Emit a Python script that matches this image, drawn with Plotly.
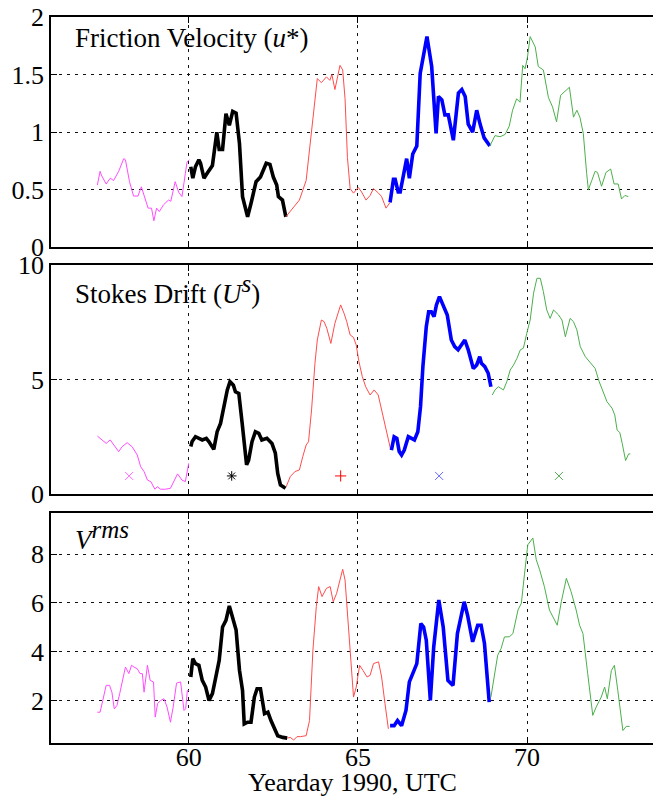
import plotly.graph_objects as go

FONT = "Liberation Serif, Times New Roman, serif"

# ---------------- Friction velocity (top panel) ----------------
u_mag_x = [57.30, 57.38, 57.43, 57.56, 57.68, 57.78, 57.93, 58.08, 58.13, 58.25, 58.37, 58.50, 58.60, 58.70,
           58.80, 58.90, 58.97, 59.05, 59.13, 59.25, 59.40, 59.47, 59.60, 59.70, 59.80, 59.90, 59.95, 60.02]
u_mag_y = [0.54, 0.66, 0.62, 0.55, 0.60, 0.58, 0.66, 0.77, 0.76, 0.57, 0.445, 0.445, 0.525, 0.425,
           0.34, 0.34, 0.23, 0.34, 0.31, 0.367, 0.41, 0.40, 0.57, 0.48, 0.44, 0.64, 0.74, 0.76]
u_blk_x = [60.06, 60.12, 60.2, 60.3, 60.35, 60.45, 60.55, 60.7, 60.83, 60.9, 61.0, 61.1, 61.2, 61.3,
           61.4, 61.5, 61.59, 61.74, 61.84, 61.99, 62.12, 62.29, 62.4, 62.5, 62.6, 62.65, 62.77, 62.87]
u_blk_y = [0.70, 0.60, 0.70, 0.76, 0.73, 0.60, 0.645, 0.71, 1.0, 0.85, 0.85, 1.16, 1.06, 1.18,
           1.165, 0.90, 0.44, 0.265, 0.38, 0.57, 0.61, 0.73, 0.72, 0.61, 0.54, 0.44, 0.41, 0.265]
u_red_x = [62.87, 63.07, 63.27, 63.47, 63.63, 63.8, 63.92, 64.07, 64.17, 64.23, 64.32, 64.47, 64.55,
           64.62, 64.69, 64.77, 64.87, 65.01, 65.11, 65.24, 65.36, 65.46, 65.61, 65.70, 65.83, 65.95]
u_red_y = [0.265, 0.34, 0.41, 0.58, 0.99, 1.465, 1.43, 1.48, 1.45, 1.50, 1.37, 1.58, 1.54,
           1.29, 0.78, 0.51, 0.47, 0.52, 0.48, 0.41, 0.45, 0.51, 0.47, 0.44, 0.34, 0.39]
u_blu_x = [65.95, 66.05, 66.1, 66.19, 66.25, 66.34, 66.44, 66.52, 66.62, 66.74, 66.84, 67.04, 67.18, 67.31,
           67.38, 67.48, 67.57, 67.67, 67.82, 67.97, 68.07, 68.17, 68.26, 68.39, 68.51, 68.61, 68.73, 68.90]
u_blu_y = [0.39, 0.59, 0.59, 0.48, 0.48, 0.62, 0.77, 0.60, 0.81, 0.88, 1.51, 1.83, 1.57, 0.99,
           1.31, 1.28, 1.15, 1.15, 0.93, 1.34, 1.37, 1.31, 1.07, 1.00, 1.19, 1.07, 0.95, 0.88]
u_grn_x = [68.90, 69.05, 69.20, 69.35, 69.47, 69.57, 69.69, 69.79, 69.87, 69.94, 70.01, 70.09, 70.24,
           70.33, 70.48, 70.63, 70.75, 70.87, 70.99, 71.10, 71.25, 71.37, 71.47, 71.56, 71.66, 71.76,
           71.81, 71.91, 72.01, 72.08, 72.20, 72.33, 72.47, 72.57, 72.69, 72.79, 72.89, 72.99]
u_grn_y = [0.88, 0.97, 0.96, 0.98, 1.05, 1.19, 1.29, 1.26, 1.58, 1.55, 1.65, 1.83, 1.74,
           1.57, 1.54, 1.30, 1.22, 1.09, 1.32, 1.35, 1.39, 1.13, 1.19, 1.13, 0.99, 0.64,
           0.50, 0.58, 0.66, 0.65, 0.53, 0.65, 0.68, 0.55, 0.55, 0.42, 0.45, 0.44]

# ---------------- Stokes drift (middle panel) ----------------
s_mag_x = [57.30, 57.43, 57.56, 57.68, 57.78, 57.93, 58.03, 58.18, 58.33, 58.48, 58.58, 58.68, 58.78,
           58.88, 59.0, 59.07, 59.17, 59.31, 59.46, 59.56, 59.67, 59.8, 59.9, 60.0]
s_mag_y = [2.54, 2.37, 2.22, 2.37, 2.15, 1.86, 2.07, 2.25, 2.07, 1.71, 1.20, 0.99, 0.62,
           0.55, 0.22, 0.33, 0.22, 0.22, 0.26, 0.55, 0.89, 0.62, 0.55, 1.35]
s_blk_x = [60.06, 60.1, 60.2, 60.3, 60.4, 60.52, 60.6, 60.74, 60.84, 60.94, 61.04, 61.14, 61.22, 61.32,
           61.38, 61.48, 61.58, 61.71, 61.77, 61.87, 61.97, 62.07, 62.16, 62.31, 62.46, 62.56, 62.63,
           62.71, 62.86]
s_blk_y = [2.08, 2.30, 2.51, 2.44, 2.37, 2.44, 2.29, 1.96, 2.73, 3.09, 3.82, 4.55, 4.91, 4.76,
           4.47, 4.40, 3.09, 1.28, 1.49, 2.29, 2.73, 2.66, 2.37, 2.44, 2.22, 1.79, 0.91,
           0.41, 0.26]
s_red_x = [62.88, 63.0, 63.14, 63.27, 63.37, 63.47, 63.54, 63.63, 63.73, 63.8, 63.92, 64.0, 64.08, 64.2,
           64.32, 64.49, 64.59, 64.67, 64.77, 64.87, 64.95, 65.03, 65.13, 65.23, 65.36, 65.48, 65.6,
           65.72, 65.82, 65.92, 65.97]
s_red_y = [0.33, 0.77, 0.99, 1.06, 1.64, 2.15, 2.29, 3.68, 5.71, 6.73, 7.60, 7.53, 7.24, 6.58,
           7.46, 8.26, 7.89, 7.53, 6.95, 6.84, 6.51, 5.78, 5.13, 4.69, 4.33, 4.55, 4.33,
           3.53, 2.80, 2.22, 1.93]
s_blu_x = [65.99, 66.07, 66.15, 66.22, 66.29, 66.37, 66.49, 66.57, 66.67, 66.77, 66.85, 66.92, 67.02,
           67.09, 67.17, 67.25, 67.32, 67.41, 67.51, 67.64, 67.76, 67.86, 67.96, 68.06, 68.16, 68.26,
           68.41, 68.51, 68.6, 68.65, 68.75, 68.85, 68.93]
s_blu_y = [1.93, 2.51, 2.44, 1.86, 1.71, 1.93, 2.51, 2.44, 2.37, 2.73, 3.82, 5.57, 7.31,
           7.96, 7.96, 7.75, 8.26, 8.62, 8.26, 7.82, 6.73, 6.44, 6.30, 6.51, 6.73, 6.30,
           5.49, 5.64, 6.00, 5.71, 5.57, 5.28, 4.69]
s_grn_x = [68.97, 69.05, 69.15, 69.3, 69.4, 69.5, 69.6, 69.7, 69.8, 69.89, 69.99, 70.09, 70.19, 70.29,
           70.39, 70.48, 70.58, 70.68, 70.78, 70.93, 71.03, 71.13, 71.27, 71.37, 71.47, 71.57, 71.72,
           71.87, 72.01, 72.13, 72.26, 72.36, 72.51, 72.59, 72.66, 72.74, 72.81, 72.91, 73.0, 73.05]
s_grn_y = [4.33, 4.55, 4.69, 4.55, 4.91, 5.42, 5.64, 5.93, 6.30, 6.37, 7.02, 7.60, 8.77, 9.42,
           9.42, 8.84, 8.04, 7.67, 8.04, 7.82, 7.60, 6.87, 7.67, 7.53, 7.17, 6.44, 6.00,
           5.71, 5.49, 4.91, 4.40, 4.04, 3.75, 3.46, 2.80, 2.69, 2.22, 1.47, 1.76, 1.76]

# Stokes-drift markers
mk_x = [58.24, 61.27, 64.49, 67.40, 70.94]
mk_y = [0.8, 0.8, 0.8, 0.8, 0.8]

# ---------------- V rms (bottom panel) ----------------
v_mag_x = [57.30, 57.38, 57.46, 57.56, 57.66, 57.73, 57.80, 57.88, 57.96, 58.03, 58.13, 58.23, 58.31,
           58.38, 58.48, 58.56, 58.63, 58.68, 58.73, 58.78, 58.86, 58.96, 59.01, 59.08, 59.17, 59.27,
           59.36, 59.46, 59.54, 59.64, 59.76, 59.86, 59.91, 59.96, 60.0]
v_mag_y = [1.53, 1.53, 2.01, 2.63, 2.63, 2.35, 1.67, 1.81, 2.29, 2.70, 3.38, 3.11, 3.45,
           3.38, 3.31, 3.11, 3.11, 2.35, 3.04, 3.45, 2.83, 2.77, 1.33, 1.88, 2.01, 2.08,
           1.74, 1.12, 1.74, 2.72, 2.77, 1.60, 1.67, 2.42, 2.42]
v_blk_x = [60.06, 60.12, 60.2, 60.3, 60.4, 60.5, 60.6, 60.7, 60.8, 60.9, 61.0, 61.1, 61.2, 61.3, 61.4,
           61.5, 61.59, 61.64, 61.74, 61.84, 61.94, 62.02, 62.12, 62.24, 62.34, 62.43, 62.53, 62.63,
           62.78, 62.91]
v_blk_y = [2.97, 3.72, 3.52, 3.45, 2.83, 2.56, 2.01, 2.29, 2.97, 3.65, 5.02, 5.29, 5.88, 5.43, 4.89,
           3.25, 2.42, 1.05, 1.12, 1.12, 2.15, 2.49, 2.49, 1.47, 1.53, 1.19, 0.85, 0.57,
           0.50, 0.47]
v_red_x = [62.91, 63.0, 63.1, 63.2, 63.3, 63.47, 63.57, 63.67, 63.77, 63.84, 63.94, 64.07, 64.18, 64.27,
           64.37, 64.45, 64.55, 64.62, 64.69, 64.77, 64.87, 64.95, 65.05, 65.15, 65.27, 65.36, 65.46,
           65.61, 65.70, 65.80, 65.90]
v_red_y = [0.47, 0.50, 0.39, 0.53, 0.53, 0.57, 1.19, 4.07, 5.85, 6.67, 6.26, 6.60, 6.67, 6.05,
           6.39, 6.87, 7.38, 6.94, 5.58, 4.34, 2.15, 2.56, 3.45, 3.24, 2.97, 3.04, 3.52,
           3.59, 2.97, 1.88, 0.85]
v_blu_x = [65.95, 66.07, 66.17, 66.29, 66.42, 66.52, 66.62, 66.74, 66.86, 66.94, 67.02, 67.14, 67.24,
           67.39, 67.52, 67.66, 67.81, 67.94, 68.14, 68.24, 68.39, 68.54, 68.64, 68.74, 68.88]
v_blu_y = [0.98, 0.98, 1.19, 0.98, 1.60, 2.77, 3.11, 3.52, 5.16, 5.02, 4.48, 2.01, 4.20,
           6.12, 5.02, 2.83, 2.63, 4.75, 6.05, 5.50, 4.41, 5.09, 5.09, 4.34, 1.94]
v_grn_x = [68.93, 69.03, 69.13, 69.23, 69.33, 69.48, 69.58, 69.73, 69.83, 69.92, 70.02, 70.17, 70.27,
           70.37, 70.51, 70.66, 70.76, 70.89, 71.01, 71.16, 71.3, 71.45, 71.55, 71.65, 71.79, 71.94,
           72.04, 72.19, 72.29, 72.37, 72.49, 72.58, 72.68, 72.83, 72.93, 73.03]
v_grn_y = [2.15, 3.11, 3.86, 4.13, 4.61, 4.62, 4.75, 5.71, 5.99, 7.15, 8.38, 8.66, 7.77,
           7.36, 6.67, 5.71, 5.43, 5.09, 6.05, 7.01, 6.46, 5.71, 5.09, 4.75, 3.11, 1.40,
           1.74, 2.15, 2.56, 2.08, 3.24, 3.45, 2.42, 0.78, 0.95, 0.95]

# tick values / labels
x_ticks = [60, 65, 70]
u_ticks = [0, 0.5, 1, 1.5, 2]
u_ticktext = ["0", "0.5", "1", "1.5", "2"]
s_ticks = [0, 5, 10]
v_ticks = [2, 4, 6, 8]

C_MAG = "#ff4cff"
C_BLK = "#000000"
C_RED = "#ff4c4c"
C_BLU = "#0000ff"
C_GRN = "#4caf4c"
THIN = 1.0
THICK = 3.6
FS = 26

fig = go.Figure()


def add_line(x, y, color, width, xa, ya):
    fig.add_trace(go.Scatter(x=x, y=y, mode="lines", line=dict(color=color, width=width),
                             xaxis=xa, yaxis=ya, showlegend=False, hoverinfo="skip"))


panel_data = [
    ("x3", "y3", [(u_mag_x, u_mag_y), (u_blk_x, u_blk_y), (u_red_x, u_red_y), (u_blu_x, u_blu_y), (u_grn_x, u_grn_y)]),
    ("x2", "y2", [(s_mag_x, s_mag_y), (s_blk_x, s_blk_y), (s_red_x, s_red_y), (s_blu_x, s_blu_y), (s_grn_x, s_grn_y)]),
    ("x", "y", [(v_mag_x, v_mag_y), (v_blk_x, v_blk_y), (v_red_x, v_red_y), (v_blu_x, v_blu_y), (v_grn_x, v_grn_y)]),
]
styles = [(C_MAG, THIN), (C_BLK, THICK), (C_RED, THIN), (C_BLU, THICK), (C_GRN, THIN)]
for xa, ya, segs in panel_data:
    for (sx, sy), (col, w) in zip(segs, styles):
        add_line(sx, sy, col, w, xa, ya)

mk_symbols = ["x-thin", "asterisk", "cross-thin", "x-thin", "x-thin"]
mk_colors = ["#ff66ff", "#000000", "#ff0000", "#6666ff", "#55aa55"]
for i in range(len(mk_x)):
    fig.add_trace(go.Scatter(x=[mk_x[i]], y=[mk_y[i]], mode="markers",
                             marker=dict(symbol=mk_symbols[i], size=8,
                                         line=dict(color=mk_colors[i], width=1)),
                             xaxis="x2", yaxis="y2", showlegend=False, hoverinfo="skip"))

GRID = dict(showgrid=True, gridcolor="#111111", gridwidth=1, griddash="3px,5px")
XR = [55.93, 73.72]


def xaxis(anchor, labels):
    d = dict(range=XR, tickvals=x_ticks, anchor=anchor, showline=True, linecolor="black", linewidth=1.5,
             mirror="ticks", ticks="inside", ticklen=6, tickcolor="black", zeroline=False,
             showticklabels=labels, tickfont=dict(family=FONT, size=FS, color="black"), automargin=False,
             ticklabelstandoff=-10, **GRID)
    if anchor != "y":
        d["matches"] = "x"
    return d


def yaxis(dom, rng, tv, tt=None):
    d = dict(domain=dom, range=rng, tickvals=tv, showline=True, linecolor="black", linewidth=1.5,
             mirror=False, ticks="inside", ticklen=6, tickcolor="black", zeroline=False,
             tickfont=dict(family=FONT, size=FS, color="black"), ticklabelstandoff=0, automargin=False,
             **GRID)
    if tt is not None:
        d["ticktext"] = tt
    return d


SUP = "<span style='font-size:%dpx'>%s</span>"

fig.update_layout(
    width=653, height=798,
    margin=dict(l=51, r=0, t=17, b=55),
    paper_bgcolor="white", plot_bgcolor="white",
    font=dict(family=FONT, color="black"),
    xaxis=xaxis("y", True),
    xaxis2=xaxis("y2", False),
    xaxis3=xaxis("y3", False),
    yaxis=yaxis([0, 0.3164], [0.27, 9.67], v_ticks),
    yaxis2=yaxis([0.3426, 0.6584], [0, 10], s_ticks),
    yaxis3=yaxis([0.6828, 1.0], [0, 2], u_ticks, u_ticktext),
    annotations=[
        dict(text="Friction Velocity (<i>u</i>*)", xref="paper", yref="y3 domain", x=0.036, y=0.908,
             xanchor="left", yanchor="middle", showarrow=False, font=dict(family=FONT, size=27, color="black")),
        dict(text="Stokes Drift (<i>U<sup>" + SUP % (25, "s") + "</sup></i>)", xref="paper", yref="y2 domain",
             x=0.036, y=0.891, xanchor="left", yanchor="middle", showarrow=False,
             font=dict(family=FONT, size=27, color="black")),
        dict(text="<i>V<sup>" + SUP % (25, "rms") + "</sup></i>", xref="paper", yref="y domain", x=0.036, y=0.905,
             xanchor="left", yanchor="middle", showarrow=False, font=dict(family=FONT, size=27, color="black")),
        dict(text="Yearday 1990, UTC", xref="paper", yref="paper", x=0.5, y=-0.055, borderpad=0,
             xanchor="center", yanchor="middle", showarrow=False, font=dict(family=FONT, size=FS, color="black")),
    ],
)

fig.write_html("out.html", config={"displayModeBar": False},
               post_script="document.body.style.margin='0';")
